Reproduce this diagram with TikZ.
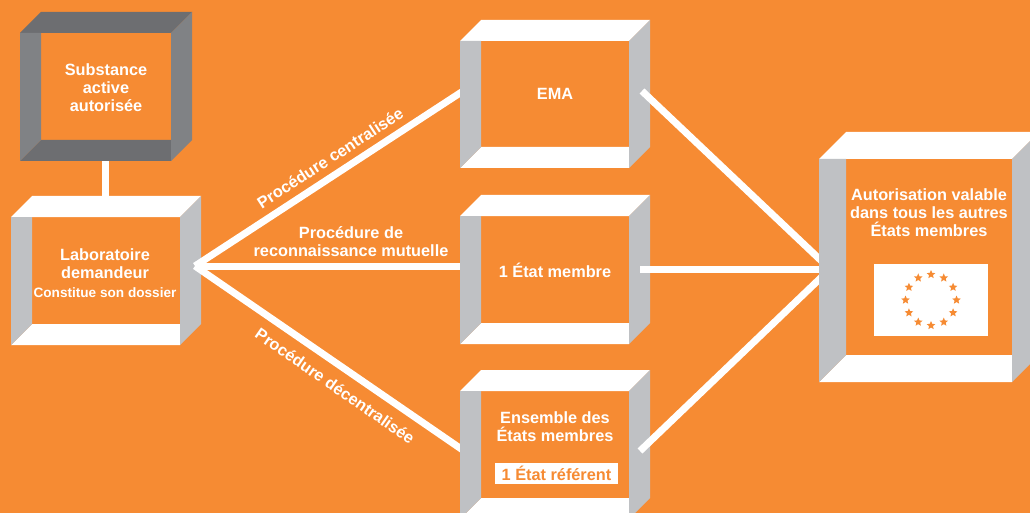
\documentclass[tikz,border=0pt]{standalone}
\usepackage{fontspec}
\setmainfont{Liberation Sans}
\usetikzlibrary{shapes.geometric}
\definecolor{bgorange}{HTML}{F68B33}
\definecolor{panelgray}{HTML}{BFC1C4}
\definecolor{topdark}{HTML}{6D6E71}
\definecolor{sidedark}{HTML}{808285}
\tikzset{
  link/.style={line width=7pt, white},
  lbl/.style={white, font=\bfseries\fontsize{16.3}{18}\selectfont, align=center, inner sep=0pt},
  small/.style={white, font=\bfseries\fontsize{13.6}{15}\selectfont, align=center, inner sep=0pt},
  eustar/.style={star, star points=5, star point ratio=2.2, fill=bgorange, inner sep=0pt, minimum size=9pt},
}
% x, y, width, height, depth, top/bottom colour, side colour
\newcommand{\crate}[7]{
  \fill [#6] (#1,#2) -- ++(#5,-#5) -- ++(#3,0) -- ++(-#5,#5) -- cycle;
  \fill [#6] (#1,#2+#4) -- ++(#5,-#5) -- ++(#3-#5,0) -- ++(0,#5) -- cycle;
  \fill [#7] (#1,#2) -- ++(#5,0) -- ++(0,#4-#5) -- ++(-#5,#5) -- cycle;
  \fill [#7] (#1+#3,#2) -- ++(#5,-#5) -- ++(0,#4) -- ++(-#5,#5) -- cycle;
}
\begin{document}
\begin{tikzpicture}[x=1pt, y=-1pt]
    \useasboundingbox (0,0) rectangle (1030,513);
    \clip (0,0) rectangle (1030,513);
    \fill [bgorange] (0,0) rectangle (1030,513);

    \coordinate (hub) at (195,266);
    \coordinate (ema in) at (470,86.5);
    \coordinate (etat in) at (470,266);
    \coordinate (ens in) at (470,455);
    \coordinate (ema out) at (642,91);
    \coordinate (etat out) at (640,269);
    \coordinate (ens out) at (640,451);
    \coordinate (auto in) at (830,269);
    \coordinate (sub out) at (105,155);
    \coordinate (lab in) at (105,200);

    % Left column
    \draw [link] (sub out) -- (lab in);
    \crate{20}{33}{151}{128}{21}{topdark}{sidedark}
    \crate{11}{217}{169}{128}{21}{white}{panelgray}

    % Lines to the middle column
    \draw [link] (hub) -- (ema in);
    \draw [link] (hub) -- (etat in);
    \draw [link] (hub) -- (ens in);

    % Middle column
    \crate{460}{41}{169}{127}{21}{white}{panelgray}
    \crate{460}{216}{169}{128}{21}{white}{panelgray}
    \crate{460}{391}{169}{128}{21}{white}{panelgray}

    % Lines to the right box
    \draw [link] (ema out) -- (auto in);
    \draw [link] (etat out) -- (auto in);
    \draw [link] (ens out) -- (auto in);
    \crate{819}{159}{193}{223}{27}{white}{panelgray}

    % Flag
    \fill [white] (874,264) rectangle (988,336);
    \foreach \i in {0,30,...,330}
        \node [eustar] (star\i) at ({931+25.5*cos(\i)},{300+25.5*sin(\i)}) {};

    % Box texts
    \node [lbl] (sub) at (106,88) {Substance\\active\\autorisée};
    \node [lbl] (lab) at (105,264) {Laboratoire\\demandeur};
    \node [small] (dossier) at (105,293) {Constitue son dossier};
    \node [lbl] (ema) at (555,94) {EMA};
    \node [lbl] (etat) at (555,270) {1 État membre};
    \node [lbl] (ens) at (555,427) {Ensemble des\\États membres};
    \node [fill=white, text=bgorange, font=\bfseries\fontsize{16.3}{18}\selectfont, inner sep=0pt, minimum width=123pt, minimum height=21pt] (ref) at (556.5,473.5) {1 État référent};
    \node [lbl] (auto) at (929,212.5) {Autorisation valable\\dans tous les autres\\États membres};

    % Line labels
    \node [lbl, rotate=33] (centr) at (330,158) {Procédure centralisée};
    \node [lbl] (mutu) at (351,241.5) {Procédure de\\reconnaissance mutuelle};
    \node [lbl, rotate=-34.7] (decentr) at (335,386) {Procédure décentralisée};
\end{tikzpicture}
\end{document}
